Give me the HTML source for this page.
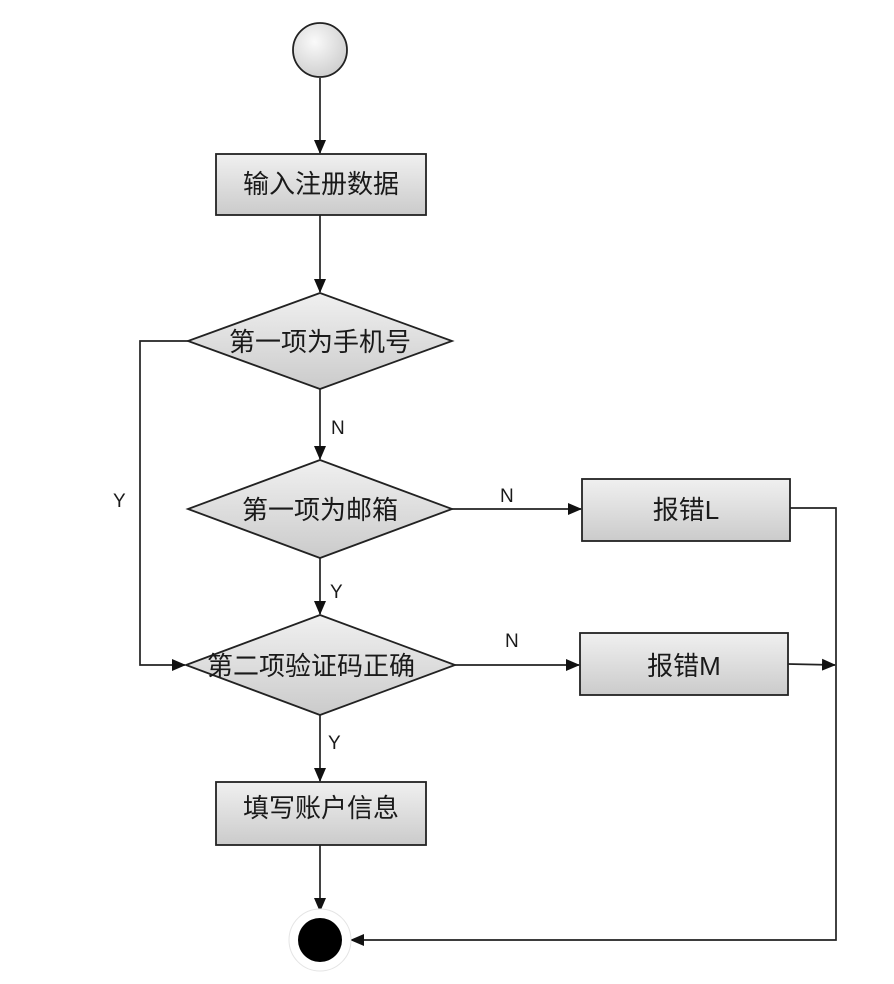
<!DOCTYPE html>
<html><head><meta charset="utf-8"><style>
html,body{margin:0;padding:0;background:#fff;width:894px;height:984px;overflow:hidden}
text{font-family:"Liberation Sans","Noto Sans CJK SC",sans-serif;fill:#1a1a1a}
</style></head><body>
<svg width="894" height="984" viewBox="0 0 894 984" xmlns="http://www.w3.org/2000/svg">
<defs>
<marker id="a" markerWidth="14" markerHeight="12" refX="13" refY="6" orient="auto" markerUnits="userSpaceOnUse">
<path d="M0,0 L14,6 L0,12 Z" fill="#111"/></marker>
<linearGradient id="g" x1="0" y1="0" x2="0" y2="1"><stop offset="0" stop-color="#f0f0f0"/><stop offset="1" stop-color="#cbcbcb"/></linearGradient>
<radialGradient id="c" cx="0.4" cy="0.35" r="0.7"><stop offset="0" stop-color="#fafafa"/><stop offset="1" stop-color="#cdcdcd"/></radialGradient>
</defs>
<g stroke="#222" stroke-width="1.7" fill="none">
<line x1="320" y1="78" x2="320" y2="153" marker-end="url(#a)"/>
<line x1="320" y1="215" x2="320" y2="292" marker-end="url(#a)"/>
<line x1="320" y1="389" x2="320" y2="459" marker-end="url(#a)"/>
<line x1="320" y1="558" x2="320" y2="614" marker-end="url(#a)"/>
<line x1="320" y1="715" x2="320" y2="781" marker-end="url(#a)"/>
<line x1="320" y1="845" x2="320" y2="911" marker-end="url(#a)"/>
<line x1="452" y1="509" x2="581" y2="509" marker-end="url(#a)"/>
<line x1="455" y1="665" x2="579" y2="665" marker-end="url(#a)"/>
<polyline points="188,341 140,341 140,665 185,665" marker-end="url(#a)"/>
<line x1="788" y1="664" x2="835" y2="665" marker-end="url(#a)"/>
<polyline points="790,508 836,508 836,940 351,940" marker-end="url(#a)"/>
</g>
<circle cx="320" cy="50" r="27" fill="url(#c)" stroke="#222" stroke-width="1.8"/>
<g fill="url(#g)" stroke="#222" stroke-width="1.8">
<rect x="216" y="154" width="210" height="61"/>
<polygon points="320,293 452,341 320,389 188,341"/>
<polygon points="320,460 452,509 320,558 188,509"/>
<rect x="582" y="479" width="208" height="62"/>
<polygon points="320,615 455,665 320,715 186,665"/>
<rect x="580" y="633" width="208" height="62"/>
<rect x="216" y="782" width="210" height="63"/>
</g>
<circle cx="320" cy="940" r="31" fill="#fff" stroke="#e4e4e4" stroke-width="1"/>
<circle cx="320" cy="940" r="22" fill="#000"/>
<g font-size="26" text-anchor="middle">
<text x="321" y="193">输入注册数据</text>
<text x="320" y="351">第一项为手机号</text>
<text x="320" y="519">第一项为邮箱</text>
<text x="311" y="675">第二项验证码正确</text>
<text x="686" y="519">报错L</text>
<text x="684" y="675">报错M</text>
<text x="321" y="817">填写账户信息</text>
</g>
<g font-size="19">
<text x="331" y="434">N</text>
<text x="500" y="502">N</text>
<text x="505" y="647">N</text>
<text x="330" y="598">Y</text>
<text x="328" y="749">Y</text>
<text x="113" y="507">Y</text>
</g>
</svg>
</body></html>
